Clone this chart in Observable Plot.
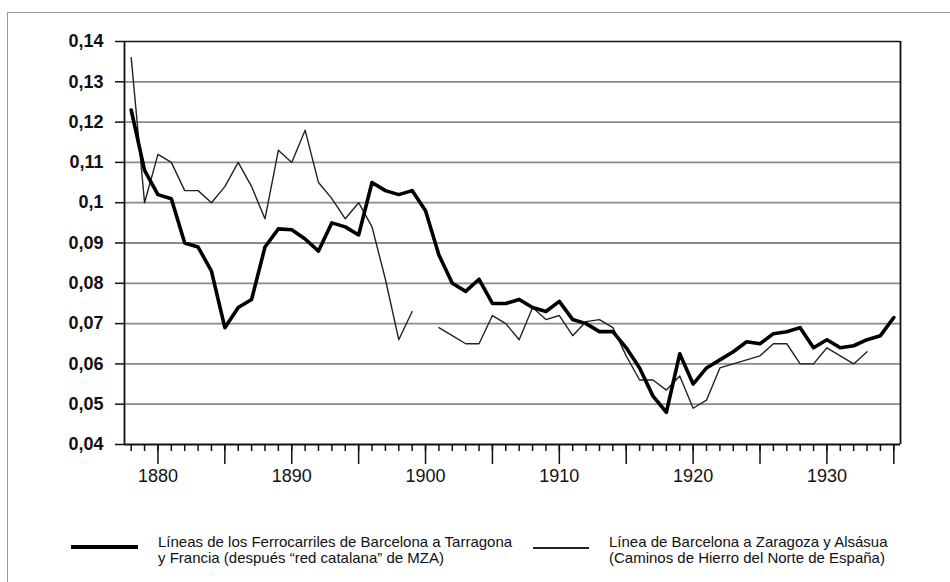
<!DOCTYPE html>
<html>
<head>
<meta charset="utf-8">
<script src="https://cdn.jsdelivr.net/npm/d3@7"></script>
<script src="https://cdn.jsdelivr.net/npm/@observablehq/plot@0.6"></script>
<style>
  html, body { margin: 0; padding: 0; background: #fff; }
  #wrap { position: relative; width: 950px; height: 582px; overflow: hidden; font-family: "Liberation Sans", Arial, sans-serif; }
  #frame { position: absolute; left: 7px; top: 12px; width: 1000px; height: 700px; border-left: 1.5px solid #999; border-top: 1.5px solid #999; }
  #chart { position: absolute; left: 0; top: 0; }
  .leg { position: absolute; font-size: 15px; line-height: 16px; color: #111; }
  .sw { position: absolute; background: #000; }
</style>
</head>
<body>
<div id="wrap">
  <div id="frame"></div>
  <div id="chart"></div>
  <div class="sw" style="left:71px; top:545px; width:67px; height:4px;"></div>
  <div class="leg" id="legA" style="left:158px; top:534px;"></div>
  <div class="sw" style="left:533px; top:547px; width:56px; height:1.5px; background:#222;"></div>
  <div class="leg" id="legB" style="left:609px; top:534px;"></div>
</div>
<script>
const years = [1878,1879,1880,1881,1882,1883,1884,1885,1886,1887,1888,1889,1890,1891,1892,1893,1894,1895,1896,1897,1898,1899,1900,1901,1902,1903,1904,1905,1906,1907,1908,1909,1910,1911,1912,1913,1914,1915,1916,1917,1918,1919,1920,1921,1922,1923,1924,1925,1926,1927,1928,1929,1930,1931,1932,1933,1934,1935];

// Líneas de los Ferrocarriles de Barcelona a Tarragona y Francia (thick)
const catalana = [0.123,0.108,0.102,0.101,0.090,0.089,0.083,0.069,0.074,0.076,0.089,0.0935,0.0933,0.091,0.088,0.095,0.094,0.092,0.105,0.103,0.102,0.103,0.098,0.087,0.080,0.078,0.081,0.075,0.075,0.076,0.074,0.073,0.0755,0.071,0.070,0.068,0.068,0.064,0.059,0.052,0.048,0.0625,0.055,0.059,0.061,0.063,0.0655,0.065,0.0675,0.068,0.069,0.064,0.066,0.064,0.0645,0.066,0.067,0.0715];

// Línea de Barcelona a Zaragoza y Alsásua (thin)
const norte = [0.136,0.100,0.112,0.110,0.103,0.103,0.100,0.104,0.110,0.104,0.096,0.113,0.110,0.118,0.105,0.101,0.096,0.100,0.094,0.081,0.066,0.073,null,0.069,0.067,0.065,0.065,0.072,0.070,0.066,0.074,0.071,0.072,0.067,0.0705,0.071,0.069,0.062,0.056,0.056,0.0535,0.057,0.049,0.051,0.059,0.060,0.061,0.062,0.065,0.065,0.060,0.060,0.064,0.062,0.060,0.063,null,null];

const yTicks = [0.04,0.05,0.06,0.07,0.08,0.09,0.10,0.11,0.12,0.13,0.14];
const yTickLabels = ["0,04","0,05","0,06","0,07","0,08","0,09","0,1","0,11","0,12","0,13","0,14"];
const xLabelTicks = [1880,1890,1900,1910,1920,1930];
const xMajorTicks = [1880,1885,1890,1895,1900,1905,1910,1915,1920,1925,1930,1935];
const legendA = ["Líneas de los Ferrocarriles de Barcelona a Tarragona", "y Francia (después \u201Cred catalana\u201D de MZA)"];
const legendB = ["Línea de Barcelona a Zaragoza y Alsásua", "(Caminos de Hierro del Norte de España)"];

const dataA = years.map((y, i) => ({year: y, v: catalana[i]}));
const dataB = years.map((y, i) => ({year: y, v: norte[i]}));

const chart = Plot.plot({
  width: 950,
  height: 500,
  marginLeft: 124,
  marginRight: 50,
  marginTop: 41,
  marginBottom: 56,
  style: {fontFamily: "'Liberation Sans', Arial, sans-serif", background: "transparent", color: "#111"},
  x: {domain: [1877.5, 1935.5]},
  y: {domain: [0.04, 0.14]},
  marks: [
    Plot.ruleY(yTicks.slice(1, -1), {stroke: "#8a8a8a", strokeWidth: 1.8}),
    Plot.ruleY([0.14], {stroke: "#111", strokeWidth: 1.5}),
    Plot.ruleX([1935.5], {stroke: "#111", strokeWidth: 1.8}),
    Plot.ruleX([1877.5], {stroke: "#111", strokeWidth: 1.8}),
    Plot.axisY(yTicks, {tickSize: 9, tickPadding: 12, tickFormat: (d, i) => yTickLabels[i], fontSize: 18, fontWeight: "bold", stroke: "#111", strokeWidth: 1.5, label: null}),
    Plot.axisX(years, {tickSize: 7, text: null, stroke: "#111", strokeWidth: 1.5, label: null}),
    Plot.axisX(xMajorTicks, {tickSize: 20, text: null, stroke: "#111", strokeWidth: 1.5, label: null}),
    Plot.axisX(xLabelTicks, {tickSize: 0, tickPadding: 25, tickFormat: d => String(d), fontSize: 18, label: null}),
    Plot.ruleY([0.04], {stroke: "#111", strokeWidth: 2}),
    Plot.line(dataB, {x: "year", y: "v", stroke: "#222", strokeWidth: 1.4, strokeLinejoin: "round"}),
    Plot.line(dataA, {x: "year", y: "v", stroke: "#000", strokeWidth: 3.6, strokeLinejoin: "round"})
  ]
});
document.getElementById("chart").appendChild(chart);
document.getElementById("legA").innerHTML = legendA.join("<br>");
document.getElementById("legB").innerHTML = legendB.join("<br>");
</script>
</body>
</html>
